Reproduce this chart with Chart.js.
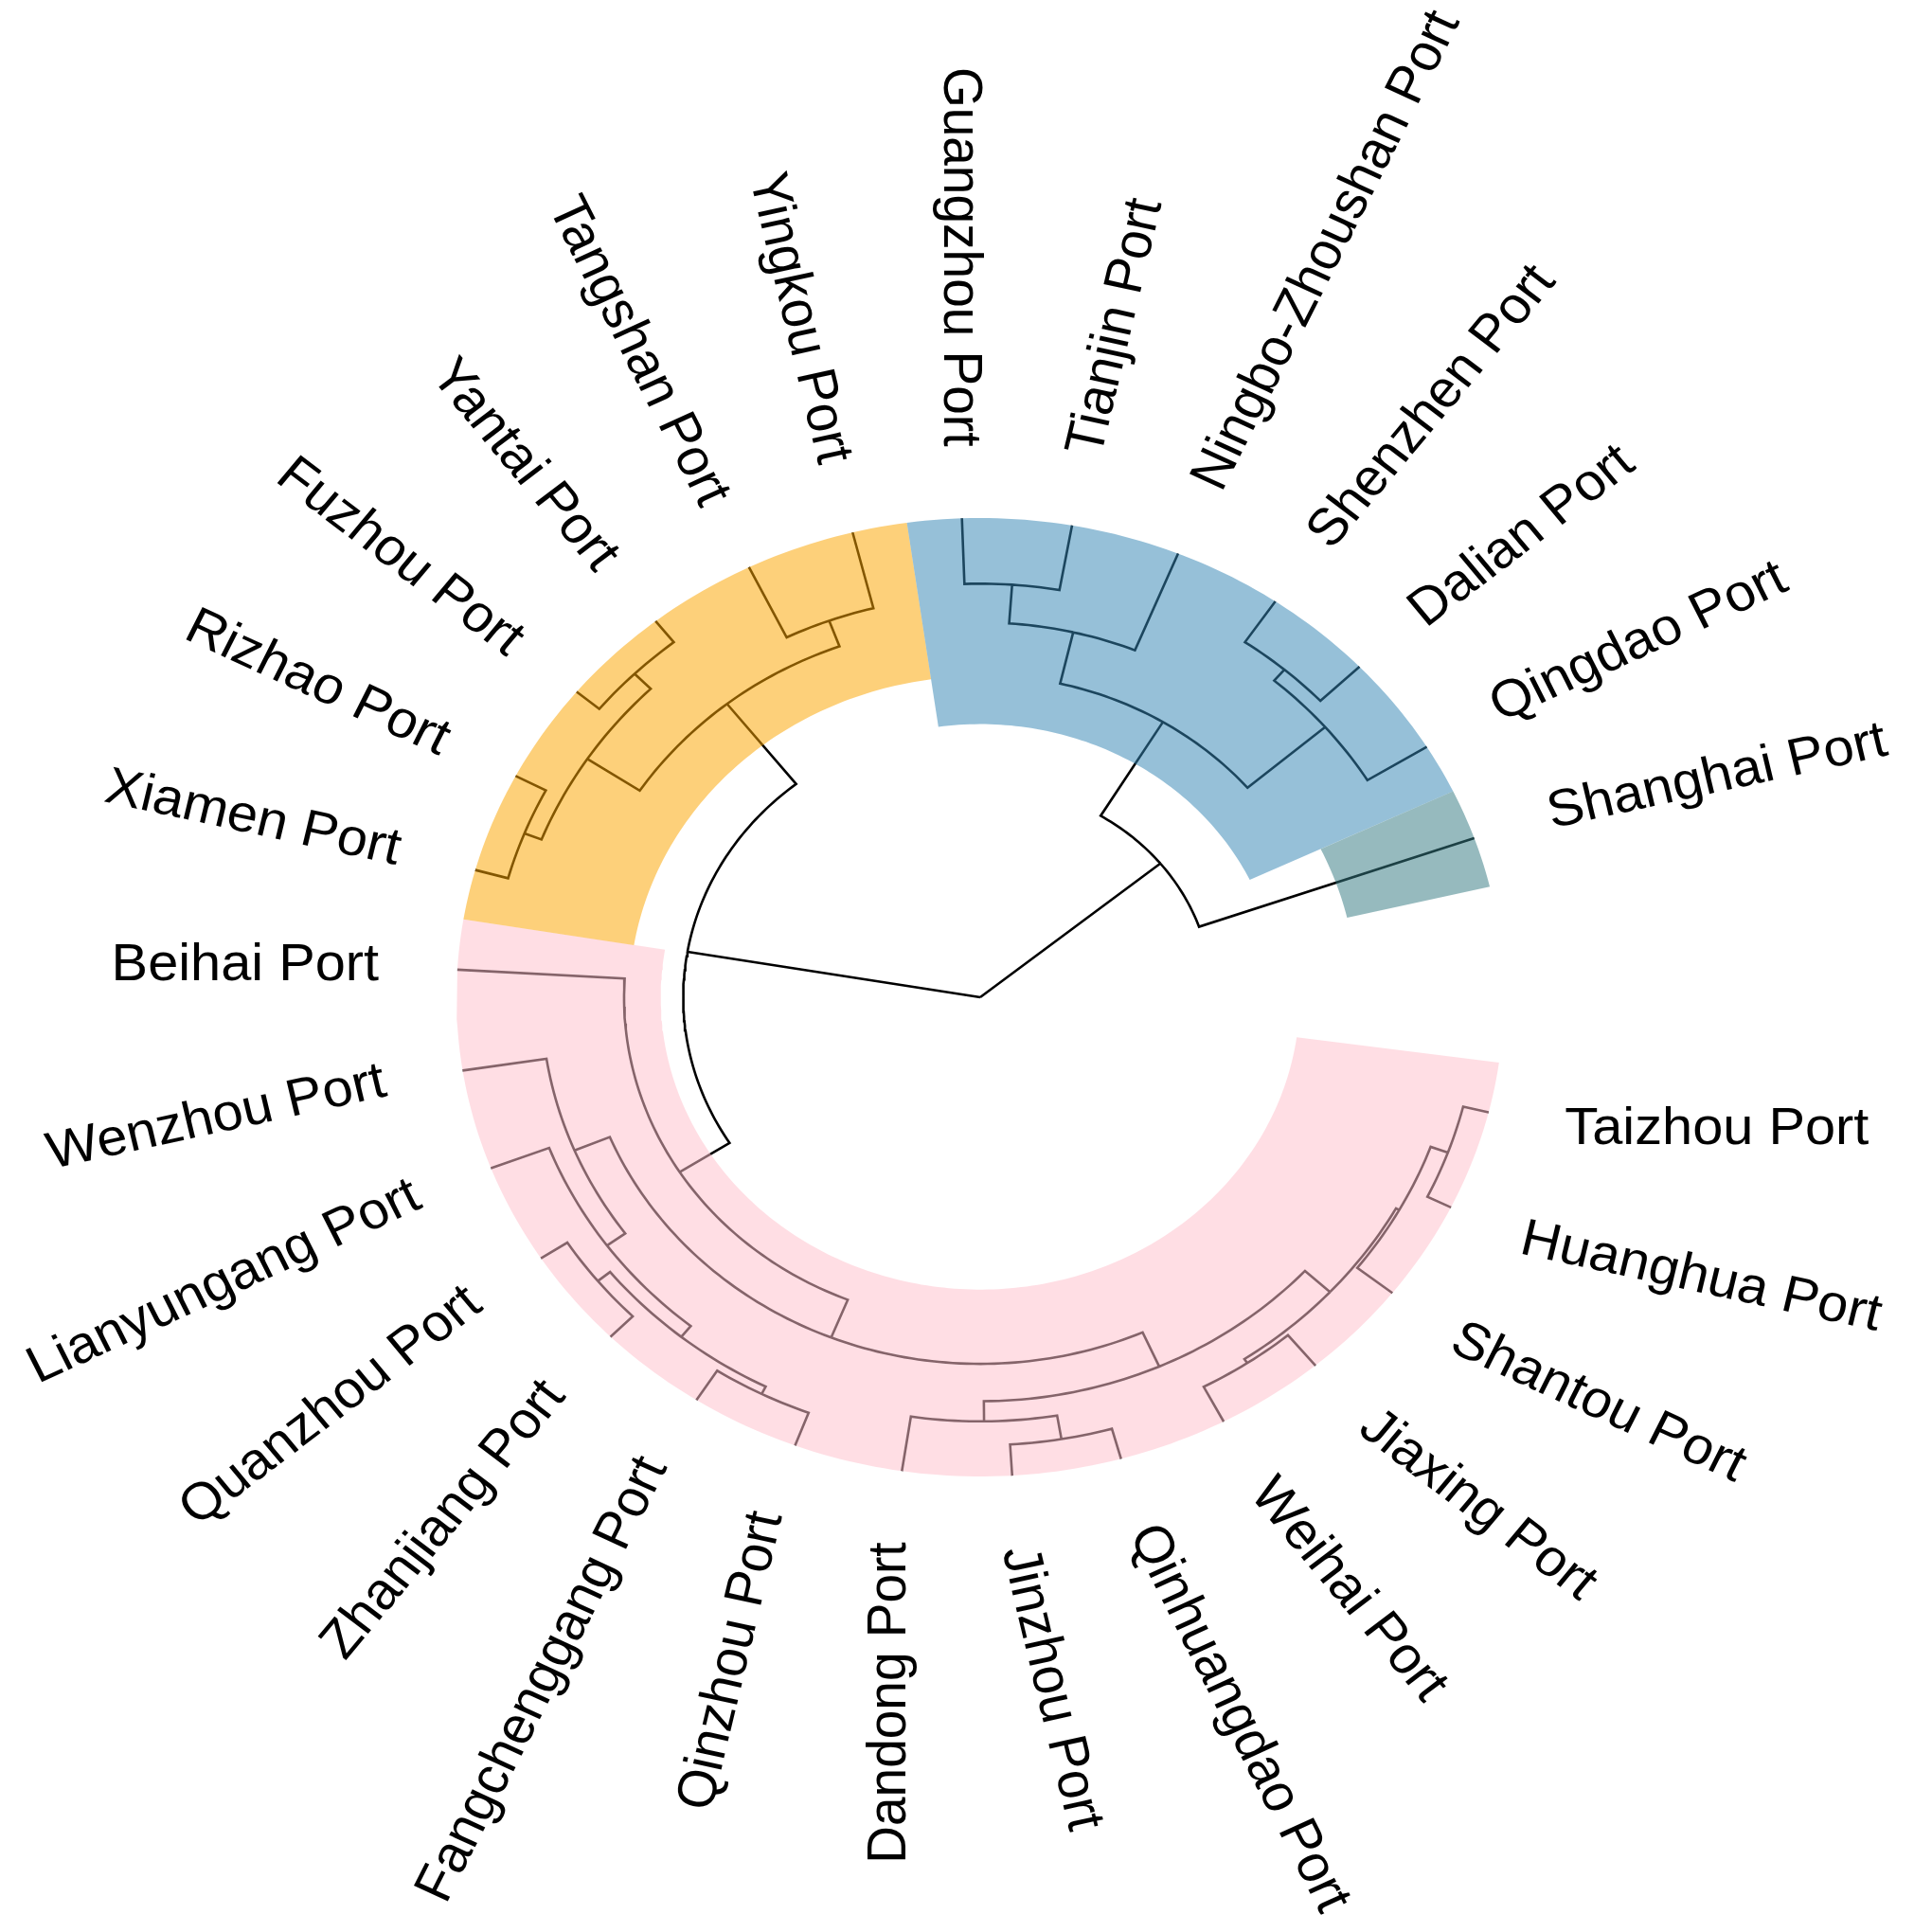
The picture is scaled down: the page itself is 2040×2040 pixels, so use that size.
<!DOCTYPE html>
<html>
<head>
<meta charset="utf-8">
<script src="https://cdn.jsdelivr.net/npm/chart.js@4.4.1/dist/chart.umd.min.js"></script>
<style>
  html, body { margin: 0; padding: 0; background: #fff; }
  #wrap { width: 2040px; height: 2040px; }
</style>
</head>
<body>
<div id="wrap"><canvas id="dend"></canvas></div>
<script>
// Leaves in dendrogram order (counter-clockwise, starting at Shanghai)
const ports = [
  'Shanghai Port', 'Qingdao Port', 'Dalian Port', 'Shenzhen Port',
  'Ningbo-Zhoushan Port', 'Tianjin Port', 'Guangzhou Port', 'Yingkou Port',
  'Tangshan Port', 'Yantai Port', 'Fuzhou Port', 'Rizhao Port', 'Xiamen Port',
  'Beihai Port', 'Wenzhou Port', 'Lianyungang Port', 'Quanzhou Port',
  'Zhanjiang Port', 'Fangchenggang Port', 'Qinzhou Port', 'Dandong Port',
  'Jinzhou Port', 'Qinhuangdao Port', 'Weihai Port', 'Jiaxing Port',
  'Shantou Port', 'Huanghua Port', 'Taizhou Port'
];

// Merge table, hclust style: negative = leaf number, positive = earlier merge row
const mergeLeft   = [-7, 1, -4, 3, 2, 5, -8, -10, -12, 8, 7, -17, -19, 12, -16, -15, -22, -21, -27, -26, -24, 21, 18, 16, -14, 11, 26];
const mergeRight  = [-6, -5, -3, -2, 4, -1, -9, -11, -13, 9, 10, -18, -20, 13, 14, 15, -23, 17, -28, 19, -25, 20, 22, 23, 24, 25, 6];
const mergeHeight = [0.137, 0.218, 0.103, 0.133, 0.328, 0.557, 0.163, 0.056, 0.065, 0.100, 0.220,
                     0.060, 0.073, 0.090, 0.119, 0.162, 0.065, 0.115, 0.050, 0.085, 0.082, 0.092,
                     0.157, 0.235, 0.320, 0.433, 1.000];

// Clusters: first and last leaf, and the height where the cluster box starts
const clusterFirst = [1, 2, 8, 14];
const clusterLast  = [1, 7, 13, 28];
const clusterCut   = [0.28, 0.43, 0.33, 0.39];

// ---- layout ----
const clusterFill = ['rgba(53,122,130,0.52)', 'rgba(53,134,180,0.52)',
                     'rgba(251,165,0,0.52)', 'rgba(255,192,203,0.52)'];
const FIRST_DEG = 19.4;   // angle of the first leaf
const STEP_DEG = 12.1;    // angle between leaves
const LABEL_R = 1.15;     // label radius
const TEXT_STRETCH = 1.05;

const H = Math.max(...mergeHeight);
const rad = d => d * Math.PI / 180;
const radius = h => 1 - h / H;
const leafDeg = k => FIRST_DEG + STEP_DEG * (k - 1);
const polar = (deg, r) => ({ x: r * Math.cos(rad(deg)), y: r * Math.sin(rad(deg)) });

const nodeDeg = [];
const childDeg = c => c < 0 ? leafDeg(-c) : nodeDeg[c - 1];
const childH = c => c < 0 ? 0 : mergeHeight[c - 1];
mergeHeight.forEach((h, i) => {
  nodeDeg[i] = (childDeg(mergeLeft[i]) + childDeg(mergeRight[i])) / 2;
});

function arc(pts, d0, d1, r) {
  const n = Math.max(1, Math.ceil(Math.abs(d1 - d0)));
  for (let j = 0; j <= n; j++) pts.push(polar(d0 + (d1 - d0) * j / n, r));
}

// links: radial piece from child, then arc to the parent angle
const linkPts = [];
mergeHeight.forEach((h, i) => {
  [mergeLeft[i], mergeRight[i]].forEach(c => {
    const d = childDeg(c);
    linkPts.push(polar(d, radius(childH(c))));
    arc(linkPts, d, nodeDeg[i], radius(h));
    linkPts.push({ x: null, y: null });
  });
});

function bandPts(k) {
  const d0 = leafDeg(clusterFirst[k]) - STEP_DEG / 2;
  const d1 = leafDeg(clusterLast[k]) + STEP_DEG / 2;
  const pts = [];
  arc(pts, d0, d1, 1);
  arc(pts, d1, d0, radius(clusterCut[k]));
  pts.push(pts[0]);
  return pts;
}

const bandSets = clusterFirst.map((f, k) => ({
  data: bandPts(k),
  borderWidth: 0,
  backgroundColor: clusterFill[k],
  fill: 'shape',
  pointRadius: 0,
  tension: 0
}));

const portLabels = {
  id: 'portLabels',
  afterDatasetsDraw(chart) {
    const { ctx, scales: { x, y } } = chart;
    ctx.save();
    ctx.font = '55px "Liberation Sans", Arial, sans-serif';
    ctx.fillStyle = '#000';
    ctx.textBaseline = 'middle';
    ports.forEach((name, i) => {
      const d = leafDeg(i + 1);
      const p = polar(d, LABEL_R);
      const a = 360 * (i + 1) / ports.length;
      const flip = Math.cos(rad(d)) < 0;
      ctx.save();
      ctx.translate(x.getPixelForValue(p.x), y.getPixelForValue(p.y));
      ctx.scale(TEXT_STRETCH, 1);
      ctx.rotate(-rad(flip ? a - 180 : a));
      ctx.textAlign = flip ? 'right' : 'left';
      ctx.fillText(name, 0, 0);
      ctx.restore();
    });
    ctx.restore();
  }
};

new Chart(document.getElementById('dend'), {
  type: 'line',
  data: {
    datasets: [
      ...bandSets,
      {
        data: linkPts,
        borderColor: '#000',
        borderWidth: 2.6,
        fill: false,
        pointRadius: 0,
        tension: 0,
        spanGaps: false
      }
    ]
  },
  options: {
    responsive: true,
    maintainAspectRatio: false,
    devicePixelRatio: 1,
    animation: false,
    events: [],
    layout: { padding: 0 },
    plugins: { legend: { display: false }, tooltip: { enabled: false } },
    scales: {
      x: { type: 'linear', display: false, min: -1035 / 553, max: 1005 / 553 },
      y: { type: 'linear', display: false, min: -987 / 506, max: 1053 / 506 }
    }
  },
  plugins: [portLabels]
});
</script>
</body>
</html>
